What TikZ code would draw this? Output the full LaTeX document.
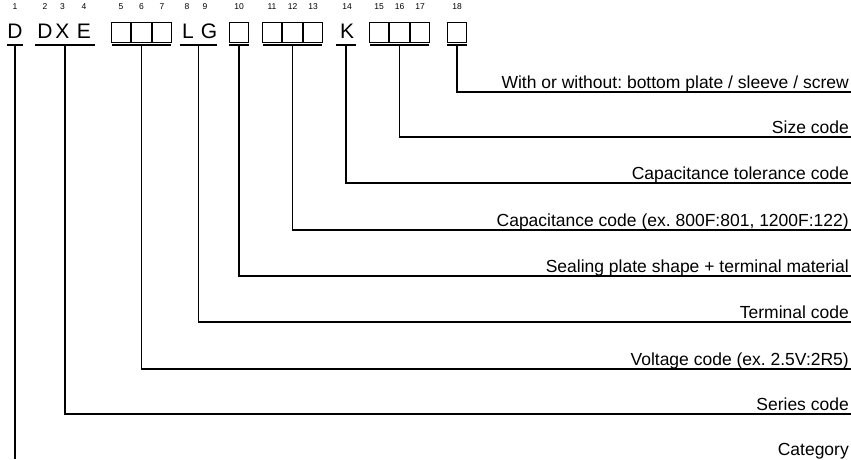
\documentclass[tikz,border=0pt]{standalone}
\usepackage{fontspec}
\setmainfont{Liberation Sans}
\usetikzlibrary{positioning}
\frenchspacing

\begin{document}
\begin{tikzpicture}[
    x=1pt,y=-1pt,
    chr/.style={inner sep=0pt,anchor=base,font=\fontsize{21}{21}\selectfont},
    num/.style={inner sep=0pt,anchor=base,font=\fontsize{8.5}{8.5}\selectfont},
    cell/.style={draw,line width=1pt,minimum width=19.5pt,minimum height=20pt,inner sep=0pt},
    bar/.style={fill=black,inner sep=0pt,minimum height=2.2pt},
    lbl/.style={inner sep=0pt,anchor=base east,font=\fontsize{17.5}{20}\selectfont},
    lead/.style={draw,line width=1.1pt}]
  \useasboundingbox (0,0) rectangle (851,459);
  \coordinate (top) at (0,9);

  % code characters and boxes
  \node[chr] (c1) at (15,38) {D};
  \node[chr] (c2) at (45,38) {D};
  \node[chr] (c3) at (62.5,38) {X};
  \node[chr] (c4) at (84,38) {E};
  \node[cell] (b5) at (121,32) {};
  \node[cell,right=0pt of b5] (b6) {};
  \node[cell,right=0pt of b6] (b7) {};
  \node[chr] (c8) at (188,38) {L};
  \node[chr] (c9) at (209,38) {G};
  \node[cell] (b10) at (239,32) {};
  \node[cell] (b11) at (272,32) {};
  \node[cell,right=0pt of b11] (b12) {};
  \node[cell,right=0pt of b12] (b13) {};
  \node[chr] (c14) at (347,38) {K};
  \node[cell] (b15) at (379,32) {};
  \node[cell,right=0pt of b15] (b16) {};
  \node[cell,right=0pt of b16] (b17) {};
  \node[cell] (b18) at (457,32) {};

  % position numbers
  \node[num] (n1) at (c1 |- top) {1};
  \node[num] (n2) at (c2 |- top) {2};
  \node[num] (n3) at (c3 |- top) {3};
  \node[num] (n4) at (c4 |- top) {4};
  \node[num] (n5) at (b5 |- top) {5};
  \node[num] (n6) at (b6 |- top) {6};
  \node[num] (n7) at (b7 |- top) {7};
  \node[num] (n8) at (187,9) {8};
  \node[num] (n9) at (205,9) {9};
  \node[num] (n10) at (b10 |- top) {10};
  \node[num] (n11) at (b11 |- top) {11};
  \node[num] (n12) at (b12 |- top) {12};
  \node[num] (n13) at (b13 |- top) {13};
  \node[num] (n14) at (c14 |- top) {14};
  \node[num] (n15) at (b15 |- top) {15};
  \node[num] (n16) at (b16 |- top) {16};
  \node[num] (n17) at (b17 |- top) {17};
  \node[num] (n18) at (b18 |- top) {18};

  % group bars
  \node[bar,minimum width=16pt] (g1) at (15,45) {};
  \node[bar,minimum width=60pt] (g2) at (65,45) {};
  \node[bar,minimum width=58.5pt] (g5) at (b6 |- 0,45) {};
  \node[bar,minimum width=37pt] (g8) at (198.5,45) {};
  \node[bar,minimum width=20pt] (g10) at (b10 |- 0,45) {};
  \node[bar,minimum width=58.5pt] (g11) at (b12 |- 0,45) {};
  \node[bar,minimum width=20pt] (g14) at (346,45) {};
  \node[bar,minimum width=58.5pt] (g15) at (b16 |- 0,45) {};
  \node[bar,minimum width=20pt] (g18) at (b18 |- 0,45) {};

  % labels
  \node[lbl] (l18) at (849,88) {With or without: bottom plate / sleeve / screw};
  \node[lbl] (l15) at (849,133) {Size code};
  \node[lbl] (l14) at (849,179) {Capacitance tolerance code};
  \node[lbl] (l11) at (849,226) {Capacitance code (ex. 800F:801, 1200F:122)};
  \node[lbl] (l10) at (849,272) {Sealing plate shape + terminal material};
  \node[lbl] (l8) at (849,318) {Terminal code};
  \node[lbl] (l5) at (849,365) {Voltage code (ex. 2.5V:2R5)};
  \node[lbl] (l2) at (849,410) {Series code};
  \node[lbl] (l1) at (849,455) {Category};

  % leader ends
  \coordinate (e18) at (851,92);
  \coordinate (e15) at (851,137);
  \coordinate (e14) at (851,183);
  \coordinate (e11) at (851,230);
  \coordinate (e10) at (851,276);
  \coordinate (e8) at (851,322);
  \coordinate (e5) at (851,369);
  \coordinate (e2) at (851,414);
  \coordinate (e1) at (15,459);

  \draw[lead] (g18) |- (e18);
  \draw[lead] (g15) |- (e15);
  \draw[lead] (g14) |- (e14);
  \draw[lead] (g11) |- (e11);
  \draw[lead] (g10) |- (e10);
  \draw[lead] (g8) |- (e8);
  \draw[lead] (g5) |- (e5);
  \draw[lead] (g2) |- (e2);
  \draw[lead] (g1) -- (e1);
\end{tikzpicture}
\end{document}
